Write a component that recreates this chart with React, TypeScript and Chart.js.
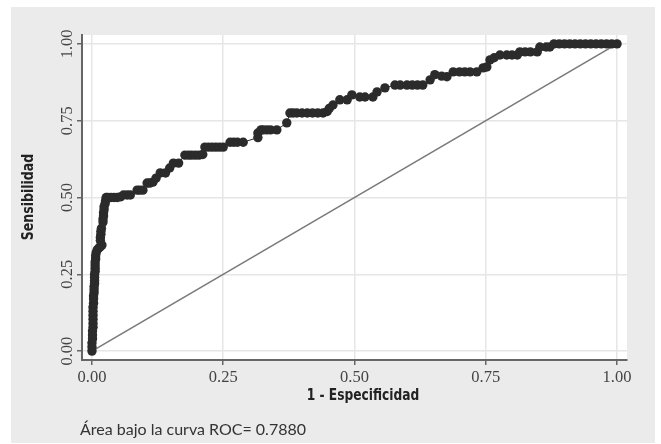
import React, { useEffect, useRef } from "react";
import { Chart, registerables } from "chart.js";

Chart.register(...registerables);

// ROC curve points (1 - specificity, sensitivity)
const fprValues = [
  0, 0, 0, 0.001, 0.001, 0.001, 0.002, 0.002, 0.002, 0.002, 0.002, 0.002, 0.003, 0.003,
  0.003, 0.004, 0.004, 0.004, 0.005, 0.005, 0.005, 0.005, 0.006, 0.006, 0.006,
  0.006, 0.007, 0.007, 0.008,
  0.01, 0.013, 0.016, 0.019,
  0.016, 0.016, 0.017, 0.017, 0.018,
  0.021, 0.021, 0.022, 0.022, 0.023, 0.023, 0.025, 0.026, 0.027,
  0.03, 0.036, 0.042, 0.048, 0.054,
  0.06, 0.067, 0.073,
  0.086, 0.091, 0.097,
  0.105, 0.11, 0.116,
  0.122, 0.13, 0.14, 0.148, 0.155, 0.165,
  0.177, 0.184, 0.19, 0.197, 0.204, 0.211,
  0.215, 0.222, 0.229, 0.236, 0.243, 0.25,
  0.263, 0.27, 0.277, 0.288,
  0.316, 0.316, 0.322, 0.326, 0.333, 0.34, 0.352,
  0.371, 0.377, 0.383, 0.39, 0.4, 0.41, 0.42, 0.43, 0.44, 0.448,
  0.452, 0.459, 0.472, 0.486, 0.495, 0.51, 0.52, 0.535, 0.543, 0.558,
  0.577, 0.587, 0.6, 0.61, 0.62, 0.63, 0.644, 0.653, 0.666, 0.676,
  0.688, 0.7, 0.71, 0.72, 0.733, 0.745, 0.752, 0.758, 0.766,
  0.777, 0.79, 0.8, 0.81, 0.815, 0.825, 0.835, 0.848, 0.853, 0.865, 0.872,
  0.88, 0.89, 0.9, 0.91, 0.92, 0.93, 0.94, 0.95, 0.96, 0.97, 0.98, 0.99, 1.0,
];
const tprValues = [
  0, 0.013, 0.026, 0.04, 0.052, 0.065, 0.078, 0.09, 0.104, 0.117, 0.13, 0.143, 0.156, 0.17,
  0.18, 0.19, 0.2, 0.21, 0.22, 0.23, 0.24, 0.25, 0.26, 0.27, 0.28,
  0.29, 0.3, 0.31, 0.32,
  0.33, 0.335, 0.34, 0.345,
  0.36, 0.37, 0.38, 0.39, 0.4,
  0.42, 0.43, 0.44, 0.45, 0.46, 0.47, 0.48, 0.49, 0.5,
  0.5, 0.5, 0.5, 0.5, 0.502,
  0.508, 0.508, 0.508,
  0.524, 0.524, 0.524,
  0.547, 0.547, 0.55,
  0.563, 0.58, 0.58, 0.596, 0.612, 0.612,
  0.638, 0.638, 0.638, 0.638, 0.638, 0.64,
  0.664, 0.664, 0.664, 0.664, 0.664, 0.664,
  0.68, 0.68, 0.68, 0.68,
  0.695, 0.71, 0.72, 0.72, 0.72, 0.72, 0.72,
  0.743, 0.775, 0.775, 0.775, 0.775, 0.775, 0.775, 0.775, 0.775, 0.78,
  0.79, 0.801, 0.818, 0.818, 0.834, 0.827, 0.827, 0.827, 0.844, 0.857,
  0.866, 0.866, 0.866, 0.866, 0.866, 0.866, 0.883, 0.9, 0.895, 0.893,
  0.909, 0.909, 0.909, 0.909, 0.909, 0.922, 0.925, 0.948, 0.955,
  0.964, 0.964, 0.964, 0.964, 0.974, 0.974, 0.974, 0.974, 0.99, 0.99, 0.99,
  1, 1, 1, 1, 1, 1, 1, 1, 1, 1, 1, 1, 1,
];
const refX = [0, 1];
const refY = [0, 1];
const xTicks = [0, 0.25, 0.5, 0.75, 1];
const yTicks = [0, 0.25, 0.5, 0.75, 1];

const xTitle = "1 - Especificidad";
const yTitle = "Sensibilidad";
const caption = "Área bajo la curva ROC= 0.7880";

const narrowBold = '"Liberation Sans Narrow", "DejaVu Sans Condensed", "Roboto Condensed", Roboto, sans-serif';

const decorPlugin = {
  id: "decor",
  beforeDraw(chart: any) {
    const { ctx, chartArea } = chart;
    ctx.save();
    ctx.fillStyle = "#ebebeb";
    ctx.fillRect(11, 7, 644, 436);
    ctx.fillStyle = "#ffffff";
    ctx.fillRect(chartArea.left, chartArea.top, chartArea.right - chartArea.left, chartArea.bottom - chartArea.top);
    ctx.restore();
  },
  afterDraw(chart: any) {
    const { ctx } = chart;
    ctx.save();
    ctx.fillStyle = "#222";
    ctx.font = `bold 16px ${narrowBold}`;
    ctx.textAlign = "center";
    ctx.textBaseline = "middle";
    ctx.save();
    ctx.translate(363, 396);
    ctx.scale(0.85, 1);
    ctx.fillText(xTitle, 0, 0);
    ctx.restore();
    ctx.translate(29, 197);
    ctx.rotate(-Math.PI / 2);
    ctx.scale(0.87, 1);
    ctx.fillText(yTitle, 0, 0);
    ctx.restore();
    ctx.save();
    ctx.fillStyle = "#333";
    ctx.font = '16px Lato, "Open Sans", sans-serif';
    ctx.textAlign = "left";
    ctx.textBaseline = "middle";
    ctx.fillText(caption, 80, 430);
    ctx.restore();
  },
};

export default function App() {
  const ref = useRef<HTMLCanvasElement>(null);
  useEffect(() => {
    if (!ref.current) return;
    const rocPoints = fprValues.map((x, i) => ({ x, y: tprValues[i] }));
    const refPoints = refX.map((x, i) => ({ x, y: refY[i] }));
    const tickFont = { family: '"Liberation Serif", "DejaVu Serif", serif', size: 16.5 };
    const chart = new Chart(ref.current, {
      type: "scatter",
      data: {
        datasets: [
          {
            data: rocPoints,
            showLine: true,
            borderColor: "#2b2b2b",
            borderWidth: 1,
            backgroundColor: "#2b2b2b",
            pointRadius: 4.7,
            pointBorderWidth: 0,
          },
          {
            data: refPoints,
            showLine: true,
            borderColor: "#7a7a7a",
            borderWidth: 1.6,
            pointRadius: 0,
          },
        ],
      },
      options: {
        animation: false,
        responsive: false,
        layout: { padding: { left: 0, top: 35, right: 34, bottom: 0 } },
        plugins: { legend: { display: false }, tooltip: { enabled: false } },
        scales: {
          x: {
            type: "linear",
            min: -0.019,
            max: 1.019,
            afterBuildTicks: (s: any) => { s.ticks = xTicks.map((v) => ({ value: v })); },
            afterFit: (s: any) => { s.height = 84; },
            ticks: {
              font: tickFont,
              color: "#444",
              padding: 3,
              maxRotation: 0,
              callback: (v: any) => Number(v).toFixed(2),
            },
            grid: { color: "#e6e6e6", lineWidth: 1.5, tickColor: "#666", tickLength: 5, tickWidth: 1.5 },
            border: { color: "#666", width: 2 },
          },
          y: {
            type: "linear",
            min: -0.029,
            max: 1.029,
            afterBuildTicks: (s: any) => { s.ticks = yTicks.map((v) => ({ value: v })); },
            afterFit: (s: any) => { s.width = 82; },
            ticks: {
              font: tickFont,
              color: "#444",
              padding: -5,
              minRotation: 90,
              maxRotation: 90,
              crossAlign: "center",
              callback: (v: any) => Number(v).toFixed(2),
            },
            grid: { color: "#e6e6e6", lineWidth: 1.5, tickColor: "#666", tickLength: 5, tickWidth: 1.5 },
            border: { color: "#666", width: 2 },
          },
        },
      },
      plugins: [decorPlugin],
    } as any);
    return () => chart.destroy();
  }, []);
  return (
    <div style={{ position: "absolute", left: 0, top: 0, width: 661, height: 444, background: "#fff" }}>
      <canvas ref={ref} width={661} height={444} />
    </div>
  );
}
